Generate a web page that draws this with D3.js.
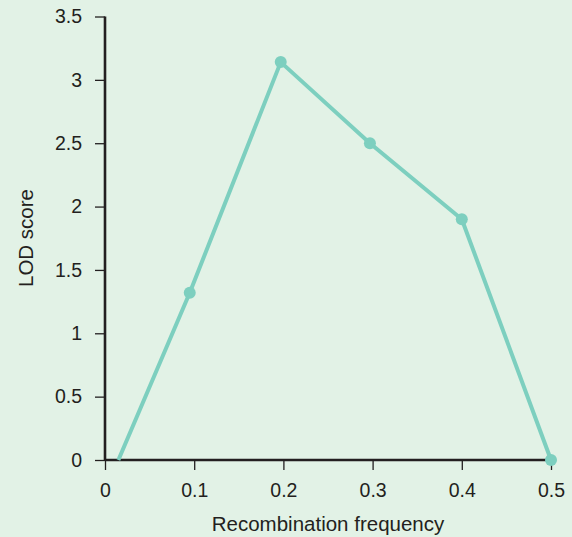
<!DOCTYPE html>
<html><head><meta charset="utf-8">
<script src="https://cdn.jsdelivr.net/npm/d3@7"></script>
<style>
html,body{margin:0;padding:0;background:#e2f2e6;}
svg{display:block;font-family:"Liberation Sans",Arial,sans-serif;}
</style></head>
<body>
<svg id="chart" width="572" height="537"></svg>
<script>
const recombFreq = [0.015, 0.095, 0.197, 0.297, 0.4, 0.5];
const lodScore   = [0, 1.32, 3.14, 2.5, 1.9, 0];
const showMarker = [false, true, true, true, true, true];
const xTicks = [0, 0.1, 0.2, 0.3, 0.4, 0.5];
const yTicks = [0, 0.5, 1, 1.5, 2, 2.5, 3, 3.5];
const xTitle = "Recombination frequency";
const yTitle = "LOD score";

const svg = d3.select("#chart");
svg.append("rect").attr("width",572).attr("height",537).attr("fill","#e2f2e6");
const x = d3.scaleLinear().domain([0,0.5]).range([105,551]);
const y = d3.scaleLinear().domain([0,3.5]).range([460,16.5]);
const data = recombFreq.map((v,i)=>({x:v,y:lodScore[i],m:showMarker[i]}));

const xAxis = svg.append("g").attr("transform","translate(0,460)")
  .call(d3.axisBottom(x).tickValues(xTicks).tickFormat(d3.format("")).tickSize(10).tickSizeOuter(0).tickPadding(13));
const yAxis = svg.append("g").attr("transform","translate(105,0)")
  .call(d3.axisLeft(y).tickValues(yTicks).tickFormat(d3.format("")).tickSize(10).tickSizeOuter(0).tickPadding(13));
[xAxis,yAxis].forEach(a=>{
  a.select(".domain").attr("stroke","#231f20").attr("stroke-width",2.6);
  a.selectAll(".tick line").attr("stroke","#231f20").attr("stroke-width",1.3);
  a.selectAll(".tick text").attr("fill","#231f20").style("font-size","19.5px").style("font-family","'Liberation Sans',Arial,sans-serif");
});
xAxis.select(".domain").attr("d","M105,0H551");
yAxis.select(".domain").attr("d","M0,16.5V460");

svg.append("path").datum(data)
  .attr("fill","none").attr("stroke","#7dcfbf").attr("stroke-width",4).attr("stroke-linejoin","round")
  .attr("d", d3.line().x(d=>x(d.x)).y(d=>y(d.y)));
svg.selectAll("circle.pt").data(data.filter(d=>d.m)).enter().append("circle")
  .attr("class","pt").attr("cx",d=>x(d.x)).attr("cy",d=>y(d.y)).attr("r",6).attr("fill","#7dcfbf");

svg.append("text").attr("x",328).attr("y",531).attr("text-anchor","middle")
  .attr("fill","#231f20").style("font-size","20.5px").text(xTitle);
svg.append("text").attr("transform","translate(33,238) rotate(-90)").attr("text-anchor","middle")
  .attr("fill","#231f20").style("font-size","20.5px").text(yTitle);
</script>
</body></html>
